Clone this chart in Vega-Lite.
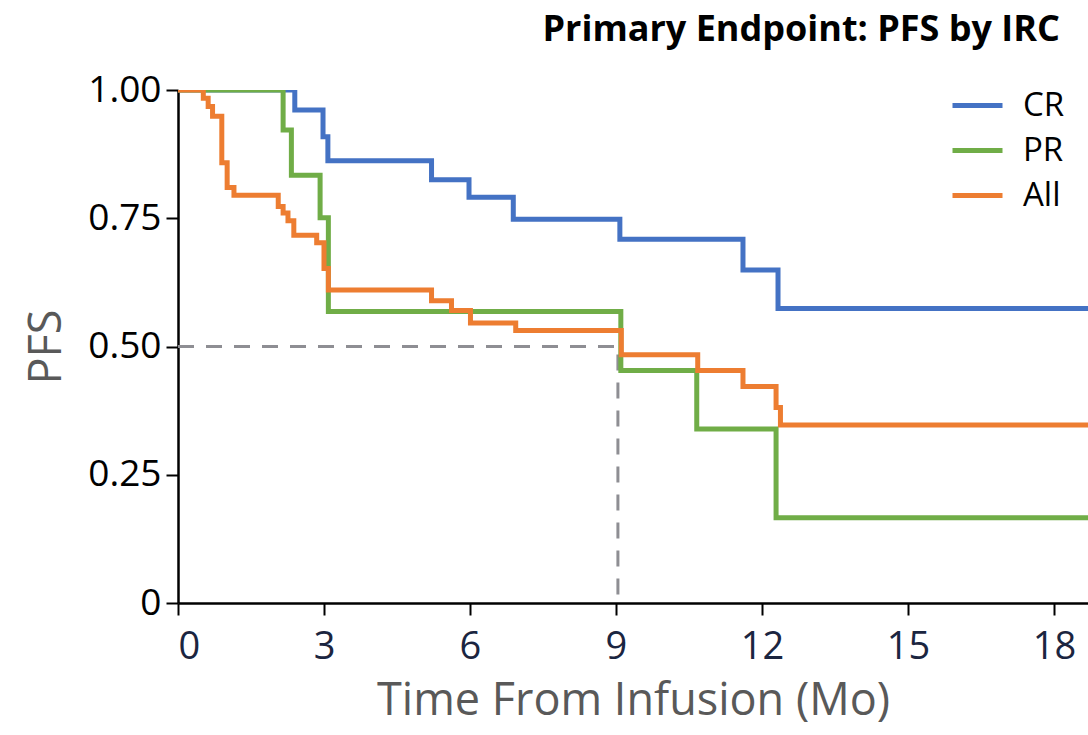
{
  "$schema": "https://vega.github.io/schema/vega-lite/v6.json",
  "width": 910,
  "height": 513,
  "autosize": "none",
  "padding": {"left": 178, "top": 90, "right": 0, "bottom": 132},
  "background": "white",
  "config": {"view": {"stroke": null}, "font": "Open Sans"},
  "title": {"text": "Primary Endpoint: PFS by IRC", "anchor": "end", "fontSize": 36, "fontWeight": "bold", "font": "Open Sans", "color": "#000000", "dx": -28, "offset": 22},
  "datasets": {
    "km": [
      {"series": "CR", "t": 0, "s": 1},
      {"series": "CR", "t": 2.4, "s": 0.961},
      {"series": "CR", "t": 2.98, "s": 0.909},
      {"series": "CR", "t": 3.08, "s": 0.862},
      {"series": "CR", "t": 5.21, "s": 0.825},
      {"series": "CR", "t": 5.98, "s": 0.791},
      {"series": "CR", "t": 6.89, "s": 0.748},
      {"series": "CR", "t": 9.08, "s": 0.709},
      {"series": "CR", "t": 11.61, "s": 0.649},
      {"series": "CR", "t": 12.33, "s": 0.574},
      {"series": "CR", "t": 18.8, "s": 0.574},
      {"series": "PR", "t": 0, "s": 1},
      {"series": "PR", "t": 2.16, "s": 0.922},
      {"series": "PR", "t": 2.33, "s": 0.834},
      {"series": "PR", "t": 2.92, "s": 0.751},
      {"series": "PR", "t": 3.09, "s": 0.568},
      {"series": "PR", "t": 9.1, "s": 0.453},
      {"series": "PR", "t": 10.66, "s": 0.339},
      {"series": "PR", "t": 12.29, "s": 0.166},
      {"series": "PR", "t": 18.8, "s": 0.166},
      {"series": "All", "t": 0, "s": 1},
      {"series": "All", "t": 0.52, "s": 0.984},
      {"series": "All", "t": 0.62, "s": 0.968},
      {"series": "All", "t": 0.71, "s": 0.949},
      {"series": "All", "t": 0.9, "s": 0.858},
      {"series": "All", "t": 1.01, "s": 0.81},
      {"series": "All", "t": 1.15, "s": 0.795},
      {"series": "All", "t": 2.06, "s": 0.773},
      {"series": "All", "t": 2.16, "s": 0.76},
      {"series": "All", "t": 2.26, "s": 0.745},
      {"series": "All", "t": 2.38, "s": 0.717},
      {"series": "All", "t": 2.85, "s": 0.702},
      {"series": "All", "t": 3.0, "s": 0.652},
      {"series": "All", "t": 3.09, "s": 0.61},
      {"series": "All", "t": 5.21, "s": 0.589},
      {"series": "All", "t": 5.62, "s": 0.57},
      {"series": "All", "t": 6.01, "s": 0.546},
      {"series": "All", "t": 6.94, "s": 0.531},
      {"series": "All", "t": 9.11, "s": 0.484},
      {"series": "All", "t": 10.68, "s": 0.453},
      {"series": "All", "t": 11.61, "s": 0.422},
      {"series": "All", "t": 12.29, "s": 0.381},
      {"series": "All", "t": 12.38, "s": 0.347},
      {"series": "All", "t": 18.8, "s": 0.347}
    ],
    "ref": [
      {"t": 0, "s": 0.5, "o": 1},
      {"t": 9.04, "s": 0.5, "o": 2},
      {"t": 9.04, "s": 0, "o": 3}
    ]
  },
  "layer": [
    {
      "data": {"name": "ref"},
      "mark": {"type": "line", "color": "#8E8E93", "strokeWidth": 3, "strokeDash": [16, 12]},
      "encoding": {
        "x": {"field": "t", "type": "quantitative", "scale": {"domain": [0, 18.7], "nice": false, "zero": false}},
        "y": {"field": "s", "type": "quantitative", "scale": {"domain": [0, 1], "nice": false}},
        "order": {"field": "o"}
      }
    },
    {
      "data": {"name": "km"},
      "mark": {"type": "line", "interpolate": "step-after", "strokeWidth": 5, "clip": true},
      "encoding": {
        "x": {
          "field": "t", "type": "quantitative",
          "scale": {"domain": [0, 18.7], "nice": false, "zero": false},
          "axis": {
            "values": [0, 3, 6, 9, 12, 15, 18],
            "title": "Time From Infusion (Mo)",
            "titleFont": "Open Sans", "titleFontSize": 45, "titleFontWeight": "normal", "titleColor": "#595959", "titlePadding": 12,
            "labelFont": "Open Sans", "labelFontSize": 38, "labelColor": "#1B2540", "labelPadding": 13,
            "domainColor": "#000000", "domainWidth": 2.5, "tickColor": "#000000", "tickWidth": 2, "tickSize": 12,
            "grid": false
          }
        },
        "y": {
          "field": "s", "type": "quantitative",
          "scale": {"domain": [0, 1], "nice": false},
          "axis": {
            "values": [0, 0.25, 0.5, 0.75, 1],
            "labelExpr": "datum.value == 0 ? '0' : format(datum.value, '.2f')",
            "title": "PFS",
            "titleFont": "Open Sans", "titleFontSize": 45, "titleFontWeight": "normal", "titleColor": "#595959", "titlePadding": 18,
            "labelFont": "Open Sans", "labelFontSize": 37, "labelColor": "#000000", "labelPadding": 5,
            "domainColor": "#000000", "domainWidth": 2.5, "tickColor": "#000000", "tickWidth": 2, "tickSize": 12,
            "grid": false
          }
        },
        "color": {
          "field": "series", "type": "nominal",
          "scale": {"domain": ["CR", "PR", "All"], "range": ["#4472C4", "#70AD47", "#ED7D31"]},
          "legend": {
            "title": null, "orient": "none", "legendX": 772, "legendY": -12,
            "symbolType": "stroke", "symbolSize": 2500, "symbolStrokeWidth": 5,
            "labelFont": "Open Sans", "labelFontSize": 33, "labelColor": "#000000", "labelOffset": 18,
            "rowPadding": -3
          }
        }
      }
    }
  ]
}
